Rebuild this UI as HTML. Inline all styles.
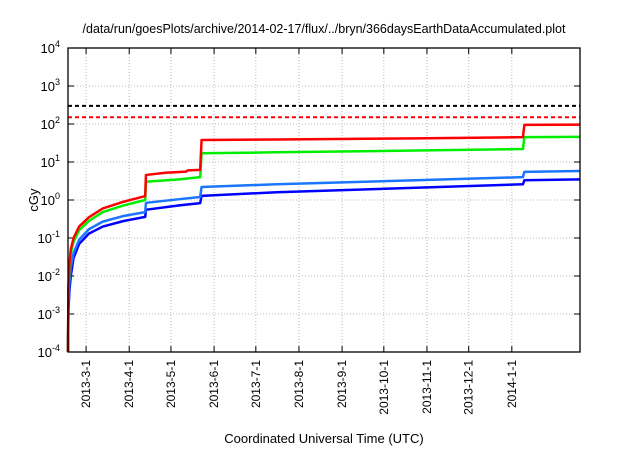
<!DOCTYPE html>
<html><head><meta charset="utf-8"><style>
body{margin:0;background:#fff}
svg{font-family:"Liberation Sans",sans-serif}
</style></head><body>
<svg id="c" width="640" height="448"></svg>
<script>
const xTickDays=[13,44,74,105,135,166,197,227,258,288,319];
const xTickLabels=["2013-3-1","2013-4-1","2013-5-1","2013-6-1","2013-7-1","2013-8-1","2013-9-1","2013-10-1","2013-11-1","2013-12-1","2014-1-1"];
const yTickExps=[-4,-3,-2,-1,0,1,2,3,4];
const redDays=[0,0.3,1,2,4,8,15,25,40,55.5,56,57,70,85,86,95,96,150,250,327,328,368];
const redVals=[1e-4,0.005,0.02,0.05,0.1,0.2,0.35,0.6,0.9,1.27,4.5,4.6,5.2,5.6,6.0,6.2,38,39,42,45,95,96];
const greenDays=[0,0.3,1,2,4,8,15,25,40,55.5,56,57,80,95,96,150,250,327,328,368];
const greenVals=[1e-4,0.004,0.015,0.04,0.08,0.16,0.28,0.48,0.72,1.0,3.0,3.05,3.5,4.0,17,18,20,22,45,46];
const lblueDays=[0,0.3,1,2,4,8,15,25,40,55.5,56,57,80,95,96,150,250,327,328,368];
const lblueVals=[1e-4,0.002,0.007,0.017,0.04,0.09,0.17,0.27,0.38,0.48,0.83,0.85,1.05,1.2,2.2,2.6,3.3,4.0,5.5,5.8];
const dblueDays=[0,0.3,1,2,4,8,15,25,40,55.5,56,57,80,95,96,150,250,327,328,368];
const dblueVals=[1e-4,0.0012,0.004,0.01,0.03,0.07,0.13,0.2,0.28,0.36,0.55,0.56,0.72,0.83,1.28,1.6,2.1,2.6,3.3,3.5];
const limitBlack=300, limitRed=150;

const X0=68,X1=580,Y0=48,Y1=352,D0=0,D1=368;
const sx=d=>X0+(d-D0)/(D1-D0)*(X1-X0);
const sy=v=>Y1-(Math.log10(v)+4)/8*(Y1-Y0);
const svg=document.getElementById('c');const NS='http://www.w3.org/2000/svg';
function mk(t,a,p){const e=document.createElementNS(NS,t);for(const k in a)e.setAttribute(k,a[k]);(p||svg).appendChild(e);return e;}
const grid=mk('g',{});
xTickDays.forEach((d,i)=>{const x=sx(d);
 mk('line',{x1:x,x2:x,y1:Y0,y2:Y1,stroke:'#bbb','stroke-dasharray':'1,2','stroke-width':1},grid);
 mk('line',{x1:x,x2:x,y1:Y1,y2:Y1-6,stroke:'#000'});mk('line',{x1:x,x2:x,y1:Y0,y2:Y0+6,stroke:'#000'});
 const t=mk('text',{x:0,y:0,'font-size':12,'text-anchor':'end',transform:`translate(${x+4},${Y1+8}) rotate(-90)`});
 t.textContent=xTickLabels[i];
 
 
});
yTickExps.forEach(e=>{const y=sy(Math.pow(10,e));
 if(e>-4&&e<4)mk('line',{x1:X0,x2:X1,y1:y,y2:y,stroke:'#bbb','stroke-dasharray':'1,2','stroke-width':1},grid);
 mk('line',{x1:X0,x2:X0+6,y1:y,y2:y,stroke:'#000'});mk('line',{x1:X1,x2:X1-6,y1:y,y2:y,stroke:'#000'});
 const t=mk('text',{x:X0-8,y:y+5,'font-size':13,'text-anchor':'end'});
 t.innerHTML='10<tspan dy="-6" font-size="9">'+e+'</tspan>';
 
 
});
function hline(v,col,name){const l=mk('line',{x1:X0,x2:X1,y1:sy(v),y2:sy(v),stroke:col,'stroke-width':2,'stroke-dasharray':'4,3'});
 }
hline(limitBlack,'#000','limit-line-300');hline(limitRed,'#f00','limit-line-150');
function series(ds,vs,col,name){const p=mk('polyline',{points:ds.map((d,i)=>sx(d)+','+sy(vs[i])).join(' '),fill:'none',stroke:col,'stroke-width':2.5,'stroke-linejoin':'round'});
 }
series(dblueDays,dblueVals,'#0000ff','series-dark-blue');
series(lblueDays,lblueVals,'#1a75ff','series-light-blue');
series(greenDays,greenVals,'#00ee00','series-green');
series(redDays,redVals,'#ff0000','series-red');
const fr=mk('rect',{x:X0,y:Y0,width:X1-X0,height:Y1-Y0,fill:'none',stroke:'#000','stroke-width':1.3});

const ti=mk('text',{x:324,y:33,'font-size':12.5,'text-anchor':'middle'});ti.textContent='/data/run/goesPlots/archive/2014-02-17/flux/../bryn/366daysEarthDataAccumulated.plot';

const xt=mk('text',{x:324,y:443,'font-size':13,'text-anchor':'middle'});xt.textContent='Coordinated Universal Time (UTC)';

const yt=mk('text',{x:0,y:0,'font-size':13,'text-anchor':'middle',transform:'translate(38,200) rotate(-90)'});yt.textContent='cGy';

</script></body></html>
